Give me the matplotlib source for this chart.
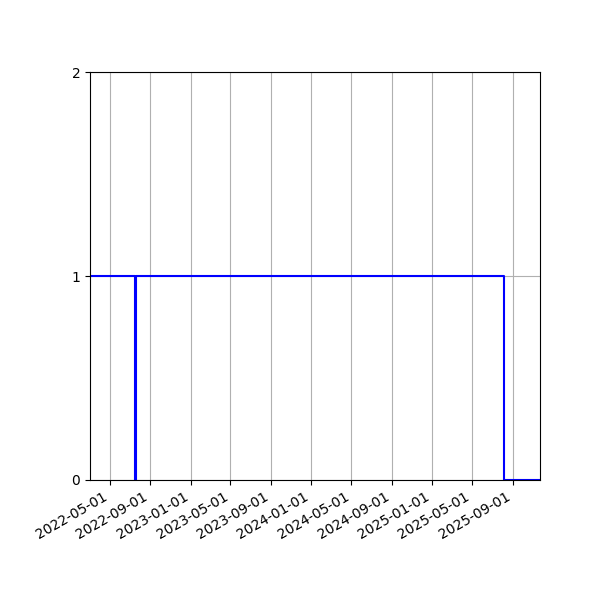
import matplotlib
matplotlib.use("Agg")
import matplotlib.pyplot as plt
import matplotlib.dates as mdates
import pandas as pd

dates = ["2022-03-03", "2022-07-17", "2022-07-20", "2025-08-05", "2025-11-23"]
values = [1, 0, 1, 0, 0]
xtick_dates = ["2022-05-01", "2022-09-01", "2023-01-01", "2023-05-01", "2023-09-01",
               "2024-01-01", "2024-05-01", "2024-09-01", "2025-01-01", "2025-05-01",
               "2025-09-01"]
yticks = [0, 1, 2]

x = pd.to_datetime(dates)
fig, ax = plt.subplots(figsize=(6, 6), dpi=100)
ax.plot(x, values, color="blue", lw=1.5, drawstyle="steps-post")
ax.set_xlim(x[0], x[-1])
ax.set_ylim(0, 2)
ax.set_yticks(yticks)
ax.set_xticks(pd.to_datetime(xtick_dates))
ax.xaxis.set_major_formatter(mdates.DateFormatter("%Y-%m-%d"))
ax.grid(True)
fig.autofmt_xdate()
fig.subplots_adjust(left=0.15, right=0.9, top=0.88, bottom=0.2)
fig.savefig("out.png")
